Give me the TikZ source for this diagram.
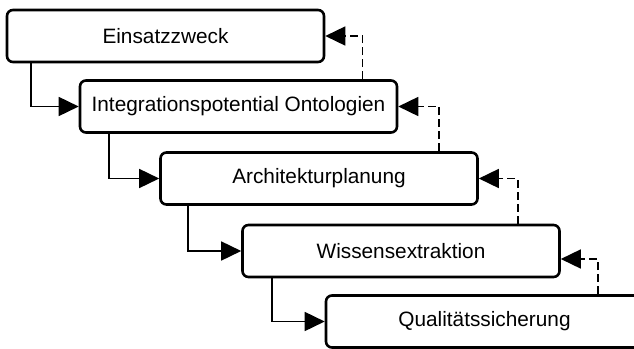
\documentclass[tikz,border=0pt]{standalone}
\usepackage{fontspec}
\setmainfont{Liberation Sans}
\usetikzlibrary{arrows.meta,calc}
\begin{document}
\begin{tikzpicture}[x=1pt,y=-1pt,
  stage/.style={draw=black, line width=2.6pt, rounded corners=6pt, fill=white,
    minimum width=317pt, minimum height=52pt, inner sep=0pt,
    font=\fontsize{20.8}{24}\selectfont},
  flowline/.style={draw=black, line width=1.6pt, -{Triangle[length=20pt,width=19pt]}},
  backline/.style={draw=black, line width=1.6pt, dash pattern=on 8pt off 4pt, -{Triangle[length=20pt,width=19pt]}}]
\useasboundingbox (0,0) rectangle (634,348);
\clip (0,0) rectangle (634,348);
\node[stage] (b1) at (165.5,36) {Einsatzzweck};
\node[stage] (b2) at (238.5,106.5) {Integrationspotential Ontologien};
\node[stage] (b3) at (319,178.5) {Architekturplanung};
\node[stage] (b4) at (401,251) {Wissensextraktion};
\node[stage] (b5) at (484.5,321.5) {Qualitätssicherung};
% forward connectors
\draw[flowline] ($(b1.south west)+(25,0)$) |- (b2.west);
\draw[flowline] ($(b2.south west)+(30,0)$) |- (b3.west);
\draw[flowline] ($(b3.south west)+(29,0)$) |- (b4.west);
\draw[flowline] ($(b4.south west)+(31,0)$) |- (b5.west);
% feedback connectors
\draw[backline] ($(b2.north east)+(-36,0)$) |- (b1.east);
\draw[backline] ($(b3.north east)+(-40,0)$) |- (b2.east);
\draw[backline] ($(b4.north east)+(-43,0)$) |- (b3.east);
\coordinate (e4) at ($(b4.east)+(0,8)$);
\draw[backline] ($(b5.north west)+(273,0)$) |- (e4);
\end{tikzpicture}
\end{document}
